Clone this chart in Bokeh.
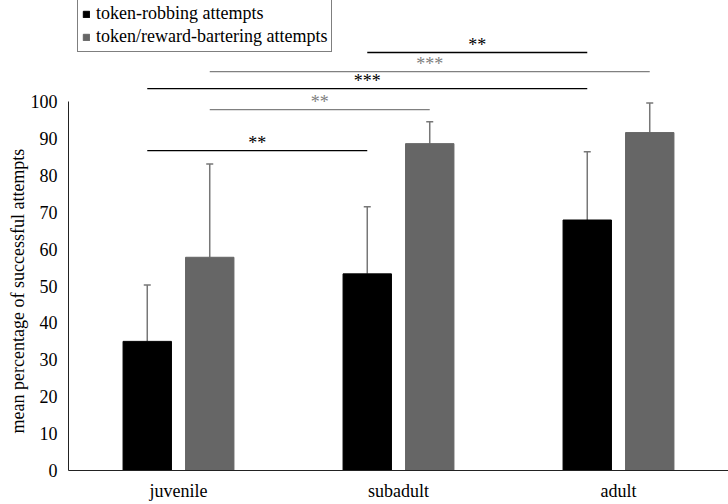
from bokeh.plotting import figure
from bokeh.models import ColumnDataSource, FixedTicker, Whisker, TeeHead, Legend, LegendItem, Title
from bokeh.core.properties import value
from bokeh.embed import file_html
from bokeh.resources import INLINE

categories = ["juvenile", "subadult", "adult"]
series_names = ["token-robbing attempts", "token/reward-bartering attempts"]
robbing_mean = [35.0, 53.3, 67.9]
robbing_upper = [50.3, 71.5, 86.4]
bartering_mean = [57.8, 88.6, 91.6]
bartering_upper = [83.1, 94.5, 99.6]
y_ticks = [0, 10, 20, 30, 40, 50, 60, 70, 80, 90, 100]
y_label = "mean percentage of successful attempts"

# significance brackets
sig_from_cat = ["juvenile", "juvenile", "juvenile", "juvenile", "subadult"]
sig_from_series = [0, 1, 0, 1, 0]
sig_to_cat = ["subadult", "subadult", "adult", "adult", "adult"]
sig_to_series = [0, 1, 0, 1, 0]
sig_y = [86.7, 97.8, 103.5, 108.1, 113.3]
sig_label = ["**", "**", "***", "***", "**"]

FONT = "Liberation Serif"
FS = "18px"
BLACK = "#000000"
GRAY = "#666666"
LINE_GRAY = "#808080"
ERR_COLOR = "#777777"

offsets = [-0.142, 0.142]
bar_w = 0.22
cat_pos = {c: i + 0.5 for i, c in enumerate(categories)}

p = figure(width=728, height=504, x_range=(0, 3), y_range=(0, 127.4),
           output_backend="svg", toolbar_location=None,
           min_border_left=68, min_border_right=0, min_border_top=0, min_border_bottom=34)
p.outline_line_color = None
p.xgrid.grid_line_color = None
p.ygrid.grid_line_color = None

renderers = []
for si, (means, uppers, color) in enumerate([(robbing_mean, robbing_upper, BLACK),
                                              (bartering_mean, bartering_upper, GRAY)]):
    xs = [cat_pos[c] + offsets[si] for c in categories]
    src = ColumnDataSource(dict(x=xs, top=means, upper=uppers))
    r = p.vbar(x="x", top="top", width=bar_w, bottom=0, source=src,
               fill_color=color, line_color=color)
    renderers.append(r)
    w = Whisker(base="x", lower="top", upper="upper", source=src, dimension="height",
                line_color=ERR_COLOR, line_width=1.5,
                upper_head=TeeHead(size=7, line_color=ERR_COLOR, line_width=1.5),
                lower_head=None)
    p.add_layout(w)

sig_colors = [BLACK, LINE_GRAY]
for s_idx in (0, 1):
    idx = [i for i, s in enumerate(sig_from_series) if s == s_idx]
    x0s = [cat_pos[sig_from_cat[i]] + offsets[sig_from_series[i]] for i in idx]
    x1s = [cat_pos[sig_to_cat[i]] + offsets[sig_to_series[i]] for i in idx]
    src = ColumnDataSource(dict(x0=x0s, x1=x1s, y=[sig_y[i] for i in idx],
                                label=[sig_label[i] for i in idx],
                                xm=[(a + b) / 2 for a, b in zip(x0s, x1s)]))
    p.segment(x0="x0", y0="y", x1="x1", y1="y", line_color=sig_colors[s_idx],
              line_width=1.3, source=src)
    p.text(x="xm", y="y", text="label", text_color=sig_colors[s_idx], text_align="center",
           text_baseline="bottom", text_font=value(FONT), text_font_size="18px",
           y_offset=2, source=src)

p.xaxis.ticker = FixedTicker(ticks=[cat_pos[c] for c in categories])
p.xaxis.major_label_overrides = {cat_pos[c]: c for c in categories}
p.xaxis.major_tick_line_color = None
p.xaxis.major_tick_out = 0
p.xaxis.major_tick_in = 0
p.xaxis.minor_tick_line_color = None
p.xaxis.axis_line_color = "#222222"
p.xaxis.major_label_text_font = FONT
p.xaxis.major_label_text_font_size = FS
p.xaxis.major_label_text_color = "black"
p.xaxis.major_label_standoff = 10

p.yaxis.ticker = FixedTicker(ticks=y_ticks)
p.yaxis.bounds = (0, 100)
p.yaxis.major_tick_line_color = None
p.yaxis.major_tick_out = 0
p.yaxis.major_tick_in = 0
p.yaxis.minor_tick_line_color = None
p.yaxis.axis_line_color = "#222222"
p.yaxis.major_label_text_font = FONT
p.yaxis.major_label_text_font_size = FS
p.yaxis.major_label_text_color = "black"
p.yaxis.major_label_standoff = 11

# y axis title, placed to centre on the 0-100 span of the axis
ytitle = Title(text=y_label, align="left", offset=37, text_font=FONT,
               text_font_size=FS, text_font_style="normal", text_color="black",
               standoff=0)
p.add_layout(ytitle, "left")

legend = Legend(items=[LegendItem(label=series_names[0], renderers=[renderers[0]]),
                       LegendItem(label=series_names[1], renderers=[renderers[1]])],
                location=(9, 418))
legend.label_text_font = FONT
legend.label_text_font_size = FS
legend.label_text_color = "black"
legend.label_height = 21
legend.glyph_width = 8
legend.glyph_height = 8
legend.spacing = 2
legend.padding = 4
legend.margin = 0
legend.label_standoff = 6
legend.border_line_color = "black"
legend.border_line_width = 1
legend.background_fill_alpha = 1
p.add_layout(legend, "center")

open("out.html", "w").write(file_html(p, INLINE))
